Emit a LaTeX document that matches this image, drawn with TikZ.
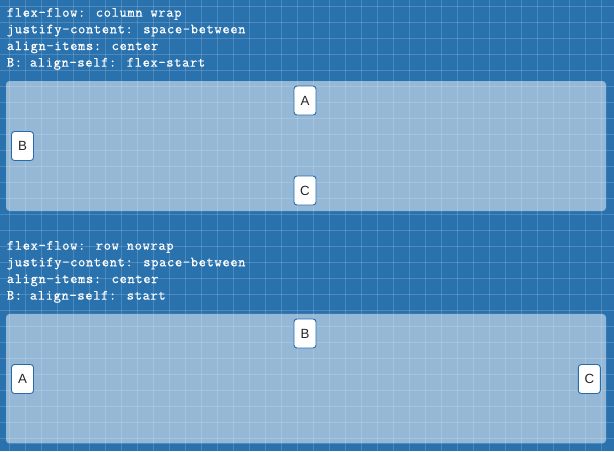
\documentclass[tikz,border=0pt]{standalone}
\usepackage{fontspec}
\setmainfont{Liberation Sans}
\newfontfamily\codefont{Latin Modern Mono}[LetterSpace=5,FakeBold=0.6]
\usetikzlibrary{calc}
\definecolor{planoazul}{RGB}{42,114,174}
\definecolor{bordaitem}{RGB}{38,108,172}

\tikzset{
	grade/.style={white,opacity=0.16,line width=1pt},
	caixa/.style={draw=none,fill=white,fill opacity=0.5,rounded corners=3.5pt,minimum width=600pt,minimum height=130pt,inner sep=0pt},
	item/.style={draw=bordaitem,fill=white,rounded corners=3pt,line width=0.9pt,minimum width=22pt,minimum height=29pt,inner sep=0pt,text=black!85,font=\fontsize{13.3}{14}\selectfont},
	codigo/.style={anchor=base west,inner sep=0pt,text=white,font=\codefont\fontsize{14}{16}\selectfont}
}

\begin{document}
\begin{tikzpicture}[x=1pt,y=-1pt]
			\useasboundingbox (0,0) rectangle (614,451);
			\fill[planoazul] (0,0) rectangle (614,451);
			\foreach \gx in {0,...,37} \draw[grade] (9.2+16*\gx,0) -- (9.2+16*\gx,451);
			\foreach \gy in {0,...,27} \draw[grade] (0,6.7+16*\gy) -- (614,6.7+16*\gy);

			\node[codigo] (fluxo1) at (6.7,16.7) {flex-flow: column wrap};
			\node[codigo] (justifica1) at (6.7,33.3) {justify-content: space-between};
			\node[codigo] (alinha1) at (6.7,50) {align-items: center};
			\node[codigo] (proprio1) at (6.7,66.6) {B: align-self: flex-start};
			\node[caixa] (caixa1) at (306,146) {};
			\node[item] (a1) at (305,100.5) {A};
			\node[item] (b1) at (22.5,146) {B};
			\node[item] (c1) at (305,190.5) {C};

			\node[codigo] (fluxo2) at (6.7,249.7) {flex-flow: row nowrap};
			\node[codigo] (justifica2) at (6.7,266.3) {justify-content: space-between};
			\node[codigo] (alinha2) at (6.7,283) {align-items: center};
			\node[codigo] (proprio2) at (6.7,299.6) {B: align-self: start};
			\node[caixa,minimum height=129.5pt] (caixa2) at (306,378.7) {};
			\node[item] (b2) at (305,333.5) {B};
			\node[item] (a2) at (22.5,379) {A};
			\node[item] (c2) at (589.3,379) {C};
\end{tikzpicture}
\end{document}
